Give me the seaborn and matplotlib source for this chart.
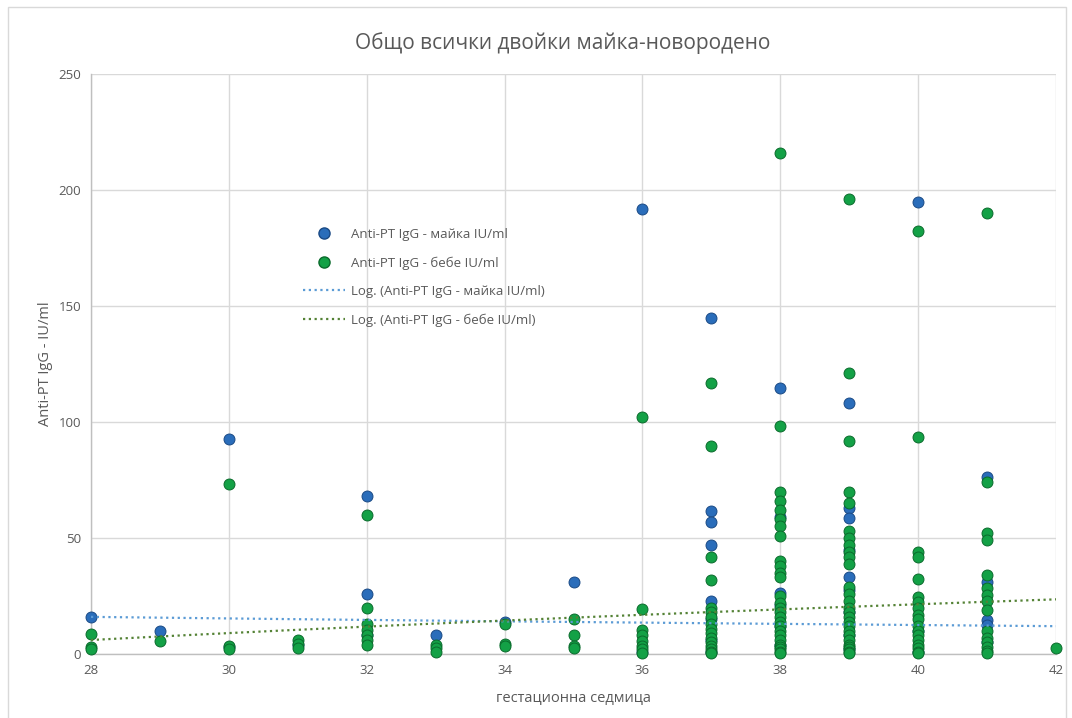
import numpy as np
import pandas as pd
import matplotlib
matplotlib.use("Agg")
import matplotlib.pyplot as plt
from matplotlib.lines import Line2D
from matplotlib.patches import Rectangle
import seaborn as sns

# Anti-PT IgG (IU/ml) by gestational week
mother_by_week = {
    28: [16],
    29: [10],
    30: [92.5, 3],
    31: [4],
    32: [68, 26, 8],
    33: [8],
    34: [14],
    35: [31],
    36: [192, 1],
    37: [145, 61.5, 57, 47, 23, 15, 6, 1],
    38: [114.5, 59, 26.5, 21, 12, 4],
    39: [108, 63, 58.5, 45, 33, 27.5, 18, 8, 2],
    40: [195, 10, 1],
    41: [76.5, 31, 14.5, 12.5, 5],
}
baby_by_week = {
    28: [8.5, 3, 2],
    29: [5.5],
    30: [73.5, 3.5, 2],
    31: [6, 4.5, 2.5],
    32: [60, 20, 13, 10.5, 8, 6, 4],
    33: [4, 2.5, 1],
    34: [13, 4.5, 3.5],
    35: [15, 8, 3.5, 2.5],
    36: [102, 19.5, 10.5, 8, 5.5, 3.5, 2, 0.5],
    37: [117, 89.5, 42, 32, 20, 18, 16, 13, 11, 9, 7, 5, 3.5, 2, 1, 0.5],
    38: [216, 98.5, 70, 66, 62, 58, 55, 51, 40, 38, 35, 33, 25, 22, 20, 18,
         16, 14, 12, 10, 8, 6, 4, 3, 2, 1, 0.5],
    39: [196, 121, 92, 70, 65, 53, 50, 47, 44, 42, 39, 29, 26, 23, 20, 18,
         16, 14, 12, 10, 8, 6, 4, 3, 2, 1, 0.5],
    40: [182.5, 93.5, 44, 42, 32.5, 24.5, 22.5, 20, 17, 15, 12, 10, 8, 6, 4,
         2.5, 1, 0.5],
    41: [190, 74, 52, 49, 34, 28.5, 25.5, 23, 19, 10, 7, 5, 3, 1.5, 0.5],
    42: [2.5],
}
# logarithmic trendlines: y = a * ln(week) + b
mother_trend = (-9.87, 48.9)
baby_trend = (43.2, -137.9)

series_names = ["Anti-PT IgG - майка IU/ml", "Anti-PT IgG - бебе IU/ml"]
trend_names = ["Log. (Anti-PT IgG - майка IU/ml)", "Log. (Anti-PT IgG - бебе IU/ml)"]
title = "Общо всички двойки майка-новородено"
x_label = "гестационна седмица"
y_label = "Anti-PT IgG - IU/ml"


def to_frame(by_week):
    rows = [(w, v) for w, vals in by_week.items() for v in vals]
    return pd.DataFrame(rows, columns=["week", "igg"])


mother_df = to_frame(mother_by_week)
baby_df = to_frame(baby_by_week)

sns.set_theme(style="white")
plt.rcParams["font.family"] = ["Open Sans", "DejaVu Sans"]

text_color = "#595959"
grid_color = "#D9D9D9"
blue_fill, blue_edge = "#2A6DBA", "#1A4A85"
green_fill, green_edge = "#13A146", "#0A6B2C"
blue_trend, green_trend = "#5B9BD5", "#548235"

fig = plt.figure(figsize=(10.72, 7.18), dpi=100)
ax = fig.add_axes([0.0849, 0.0891, 0.9002, 0.8078])

sns.scatterplot(data=mother_df, x="week", y="igg", ax=ax, s=62,
                color=blue_fill, edgecolor=blue_edge, linewidth=0.7,
                zorder=3, legend=False, clip_on=False)
sns.scatterplot(data=baby_df, x="week", y="igg", ax=ax, s=62,
                color=green_fill, edgecolor=green_edge, linewidth=0.7,
                zorder=4, legend=False, clip_on=False)

xs = np.linspace(28, 42, 200)
trend_df = pd.DataFrame({
    "week": np.concatenate([xs, xs]),
    "igg": np.concatenate([mother_trend[0] * np.log(xs) + mother_trend[1],
                           baby_trend[0] * np.log(xs) + baby_trend[1]]),
    "series": [trend_names[0]] * len(xs) + [trend_names[1]] * len(xs),
})
sns.lineplot(data=trend_df, x="week", y="igg", hue="series",
             palette=[blue_trend, green_trend], ax=ax, linewidth=1.6,
             legend=False, zorder=5)
for ln in ax.lines:
    ln.set_linestyle((0, (1, 1.6)))

ax.set_xlim(28, 42)
ax.set_ylim(0, 250)
ax.set_xticks(np.arange(28, 43, 2))
ax.set_yticks(np.arange(0, 251, 50))
ax.grid(True, color=grid_color, linewidth=1.0)
ax.set_axisbelow(True)
for side in ["top", "right"]:
    ax.spines[side].set_visible(False)
for side in ["left", "bottom"]:
    ax.spines[side].set_color("#BFBFBF")
    ax.spines[side].set_linewidth(1.0)
ax.tick_params(axis="both", length=0, labelsize=9.5, colors=text_color, pad=7)

ax.set_xlabel(x_label, fontsize=10.5, color=text_color, labelpad=10)
ax.set_ylabel(y_label, fontsize=10.5, color=text_color, labelpad=4)
fig.text(0.525, 0.94, title, fontsize=15, color=text_color,
         ha="center", va="center")

handles = [
    Line2D([], [], linestyle="none", marker="o", markersize=8,
           markerfacecolor=blue_fill, markeredgecolor=blue_edge),
    Line2D([], [], linestyle="none", marker="o", markersize=8,
           markerfacecolor=green_fill, markeredgecolor=green_edge),
    Line2D([], [], color=blue_trend, linewidth=1.6, linestyle=(0, (1, 1.6))),
    Line2D([], [], color=green_trend, linewidth=1.6, linestyle=(0, (1, 1.6))),
]
leg = ax.legend(handles, series_names + trend_names, loc="upper left",
                bbox_to_anchor=(0.2197, 0.735), frameon=False,
                fontsize=9.5, handlelength=3.2, handletextpad=0.45,
                labelspacing=1.17, borderpad=0, borderaxespad=0)
for t in leg.get_texts():
    t.set_color(text_color)

# chart area border
fig.patches.append(Rectangle((0.0075, -0.01), 0.987, 1.0, transform=fig.transFigure,
                             fill=False, edgecolor="#D9D9D9", linewidth=1.0))

fig.savefig("out.png", dpi=100, facecolor="white")
